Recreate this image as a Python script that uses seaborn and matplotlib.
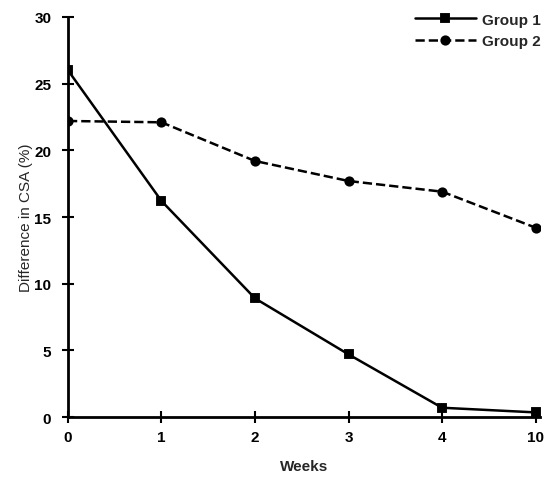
import matplotlib
matplotlib.use("Agg")
import matplotlib.pyplot as plt
import seaborn as sns
import pandas as pd

weeks = ["0", "1", "2", "3", "4", "10"]
group1 = [26.0, 16.2, 8.9, 4.7, 0.7, 0.35]
group2 = [22.2, 22.1, 19.2, 17.7, 16.9, 14.2]
series_names = ["Group 1", "Group 2"]
y_ticks = [0, 5, 10, 15, 20, 25, 30]

df = pd.DataFrame({
    "Weeks": weeks * 2,
    "value": group1 + group2,
    "group": [series_names[0]] * len(weeks) + [series_names[1]] * len(weeks),
})

sns.set_theme(style="white")
plt.rcParams["font.family"] = ["Liberation Sans", "DejaVu Sans"]

fig = plt.figure(figsize=(5.46, 4.85), dpi=100)
ax = fig.add_axes([0.1245, 0.138, 0.865, 0.825])

sns.pointplot(data=df, x="Weeks", y="value", hue="group", order=weeks,
              hue_order=series_names, palette=["black", "black"],
              markers=["s", "o"], linestyles=["-", "--"],
              markersize=6, linewidth=1.8, errorbar=None, ax=ax)

ax.set_xlim(0, 5.05)
ax.set_ylim(0, 30)
ax.set_yticks(y_ticks)
ax.set_yticklabels([str(t) for t in y_ticks], fontsize=11, fontweight="bold")
ax.set_xticks(range(len(weeks)))
ax.set_xticklabels(weeks, fontsize=11, fontweight="bold")
for s in ["top", "right"]:
    ax.spines[s].set_visible(False)
for s in ["left", "bottom"]:
    ax.spines[s].set_color("black")
    ax.spines[s].set_linewidth(2)
ax.tick_params(axis="both", direction="inout", length=8, width=1.5,
               colors="black", left=True, bottom=True)
ax.tick_params(axis="x", pad=5)
ax.tick_params(axis="y", pad=8)
ax.set_xlabel("Weeks", fontsize=11, fontweight="bold", labelpad=11)
ax.set_ylabel("Difference in CSA (%)", fontsize=11, labelpad=1)

leg = ax.legend(loc="upper right", bbox_to_anchor=(1.03, 1.045), frameon=False,
                fontsize=11, handlelength=4, handletextpad=0.4, labelspacing=0.5)
for t in leg.get_texts():
    t.set_fontweight("bold")

fig.savefig("out.png", dpi=100)
